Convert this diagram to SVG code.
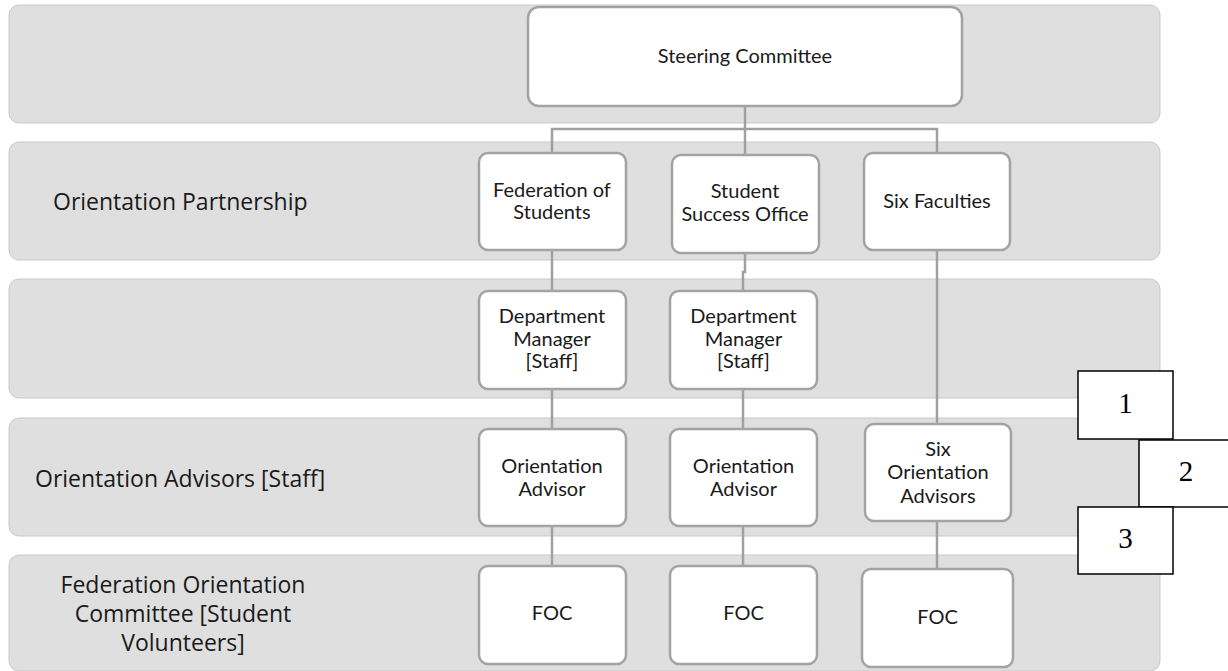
<svg xmlns="http://www.w3.org/2000/svg" width="1228" height="671" viewBox="0 0 1228 671">
<style>
.band{fill:#dfdfdf;stroke:#c9c9c9;stroke-width:1}
.node{fill:#ffffff;stroke:#a3a3a3;stroke-width:2.5}
.num{fill:#ffffff;stroke:#000000;stroke-width:1.5}
.conn{fill:none;stroke:#a0a0a0;stroke-width:2.5}
.nt{font-family:Lato,"Liberation Sans",sans-serif;font-size:20px;fill:#1a1a1a;text-anchor:middle}
.lt{font-family:"Open Sans","Noto Sans",sans-serif;font-size:23px;fill:#1a1a1a}
.nn{font-family:"Liberation Serif","DejaVu Serif",serif;font-size:29px;fill:#000000;text-anchor:middle}
</style>
<rect width="1228" height="671" fill="#ffffff"/>
<g id="bands">
<rect class="band" x="9" y="5" width="1151" height="118" rx="10"/>
<rect class="band" x="9" y="142" width="1151" height="118" rx="10"/>
<rect class="band" x="9" y="279" width="1151" height="119" rx="10"/>
<rect class="band" x="9" y="418" width="1151" height="118" rx="10"/>
<rect class="band" x="9" y="555" width="1151" height="116" rx="10"/>
</g>
<g id="band-labels">
<text class="lt" x="53" y="210">Orientation Partnership</text>
<text class="lt" x="35" y="487">Orientation Advisors [Staff]</text>
<text class="lt" x="183" y="593" text-anchor="middle">Federation Orientation</text>
<text class="lt" x="183" y="622" text-anchor="middle">Committee [Student</text>
<text class="lt" x="183" y="651" text-anchor="middle">Volunteers]</text>
</g>
<g id="connectors">
<polyline class="conn" points="745,106 745,129"/>
<polyline class="conn" points="552,153 552,129 937,129 937,153"/>
<polyline class="conn" points="745,129 745,155"/>
<polyline class="conn" points="552,250 552,291"/>
<polyline class="conn" points="745,253 745,272 743,272 743,291"/>
<polyline class="conn" points="937,250 937,424"/>
<polyline class="conn" points="552,389 552,429"/>
<polyline class="conn" points="743,389 743,429"/>
<polyline class="conn" points="552,526 552,566"/>
<polyline class="conn" points="743,526 743,566"/>
<polyline class="conn" points="937,521 937,569"/>
</g>
<g id="steering-committee">
<rect class="node" x="528" y="7" width="434" height="99" rx="11"/>
<text class="nt" x="745" y="63">Steering Committee</text>
</g>
<g id="federation-of-students">
<rect class="node" x="479" y="153" width="147" height="97" rx="9"/>
<text class="nt" x="552" y="197">Federation of</text>
<text class="nt" x="552" y="219">Students</text>
</g>
<g id="student-success-office">
<rect class="node" x="672" y="155" width="147" height="98" rx="9"/>
<text class="nt" x="745" y="198">Student</text>
<text class="nt" x="745" y="221">Success Office</text>
</g>
<g id="six-faculties">
<rect class="node" x="864" y="153" width="146" height="97" rx="9"/>
<text class="nt" x="937" y="208">Six Faculties</text>
</g>
<g id="department-manager-1">
<rect class="node" x="479" y="291" width="147" height="98" rx="9"/>
<text class="nt" x="552" y="323">Department</text>
<text class="nt" x="552" y="346">Manager</text>
<text class="nt" x="552" y="368">[Staff]</text>
</g>
<g id="department-manager-2">
<rect class="node" x="670" y="291" width="147" height="98" rx="9"/>
<text class="nt" x="743.5" y="323">Department</text>
<text class="nt" x="743.5" y="346">Manager</text>
<text class="nt" x="743.5" y="368">[Staff]</text>
</g>
<g id="orientation-advisor-1">
<rect class="node" x="479" y="429" width="147" height="97" rx="9"/>
<text class="nt" x="552" y="473">Orientation</text>
<text class="nt" x="552" y="496">Advisor</text>
</g>
<g id="orientation-advisor-2">
<rect class="node" x="670" y="429" width="147" height="97" rx="9"/>
<text class="nt" x="743.5" y="473">Orientation</text>
<text class="nt" x="743.5" y="496">Advisor</text>
</g>
<g id="six-orientation-advisors">
<rect class="node" x="865" y="424" width="146" height="97" rx="9"/>
<text class="nt" x="938" y="456">Six</text>
<text class="nt" x="938" y="479">Orientation</text>
<text class="nt" x="938" y="503">Advisors</text>
</g>
<g id="foc-1">
<rect class="node" x="479" y="566" width="147" height="98" rx="9"/>
<text class="nt" x="552" y="620">FOC</text>
</g>
<g id="foc-2">
<rect class="node" x="670" y="566" width="147" height="98" rx="9"/>
<text class="nt" x="743.5" y="620">FOC</text>
</g>
<g id="foc-3">
<rect class="node" x="862" y="569" width="151" height="98" rx="9"/>
<text class="nt" x="937.5" y="624">FOC</text>
</g>
<g id="number-1">
<rect class="num" x="1078" y="371" width="95" height="68"/>
<text class="nn" x="1125.5" y="413">1</text>
</g>
<g id="number-2">
<rect class="num" x="1139" y="440" width="95" height="67"/>
<text class="nn" x="1186" y="481">2</text>
</g>
<g id="number-3">
<rect class="num" x="1078" y="507" width="95" height="67"/>
<text class="nn" x="1125.5" y="548">3</text>
</g>
</svg>
